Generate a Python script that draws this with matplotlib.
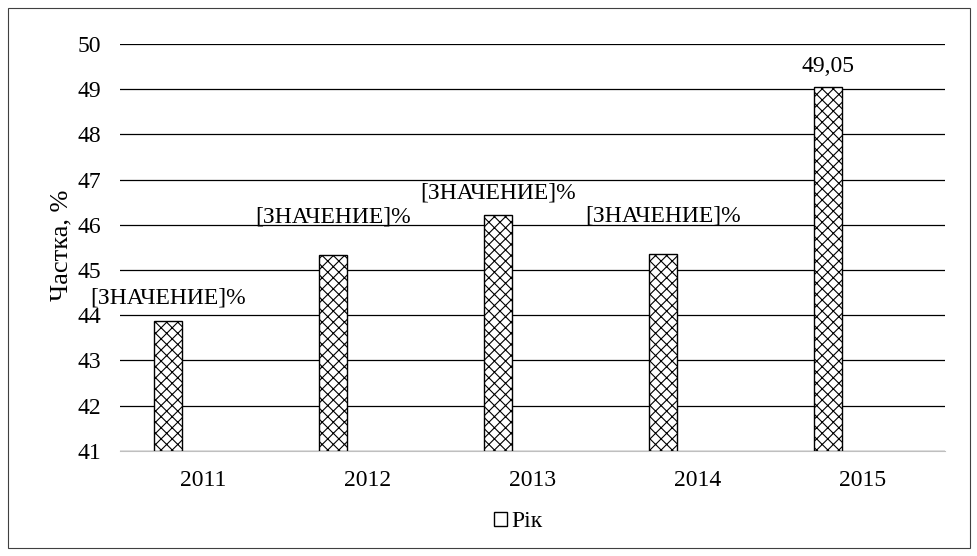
import matplotlib.pyplot as plt
import matplotlib.patches as mpatches
import numpy as np

plt.rcParams["font.family"] = ["Liberation Serif", "DejaVu Serif"]
plt.rcParams["hatch.linewidth"] = 0.8

years = ["2011", "2012", "2013", "2014", "2015"]
shares = [43.87, 45.33, 46.22, 45.35, 49.05]
bar_labels = ["[ЗНАЧЕНИЕ]%", "[ЗНАЧЕНИЕ]%", "[ЗНАЧЕНИЕ]%", "[ЗНАЧЕНИЕ]%", "49,05"]
# label offsets above bar tops (data units), as in the source chart
label_dy = [0.51, 0.84, 0.48, 0.84, 0.44]

fig = plt.figure(figsize=(9.78, 5.56), dpi=100)
ax = fig.add_axes([0.123, 0.189, 0.843, 0.732])

xs = np.arange(len(years))
# hatched series sits in the left slot of each category (empty "Рік" series on the right)
bx = xs - 0.21
ax.bar(bx, [s - 41 for s in shares], bottom=41, width=0.17, color="white",
       edgecolor="black", linewidth=1.0, hatch="xxx", zorder=3)

for x, s, lab, dy in zip(bx, shares, bar_labels, label_dy):
    ax.text(x, s + dy, lab, ha="center", va="center", fontsize=17, zorder=4)

ax.set_ylim(41, 50)
ax.set_xlim(-0.5, 4.5)
ax.set_yticks(range(41, 51))
ax.yaxis.grid(True, color="black", linewidth=0.9, zorder=0)
ax.set_axisbelow(True)
for sp in ["left", "right", "top"]:
    ax.spines[sp].set_visible(False)
ax.spines["bottom"].set_color("#bfbfbf")
ax.set_xticks(xs)
ax.set_xticklabels(years)
ax.tick_params(axis="both", length=0, labelsize=17)
ax.tick_params(axis="x", pad=14)
ax.tick_params(axis="y", pad=14)

fig.text(0.063, 0.559, "Частка, %", rotation=90, ha="center", va="center",
         fontsize=19)

handle = mpatches.Patch(facecolor="white", edgecolor="black", linewidth=1.0,
                        label="Рік")
fig.legend(handles=[handle], loc="center", bbox_to_anchor=(0.53, 0.062),
           frameon=False, fontsize=17, handlelength=0.55, handleheight=0.55,
           handletextpad=0.2)

fig.patches.append(mpatches.Rectangle((0.008, 0.014), 0.984, 0.972,
                                      transform=fig.transFigure, fill=False,
                                      edgecolor="#404040", linewidth=0.8))

fig.savefig("out.png", dpi=100)
